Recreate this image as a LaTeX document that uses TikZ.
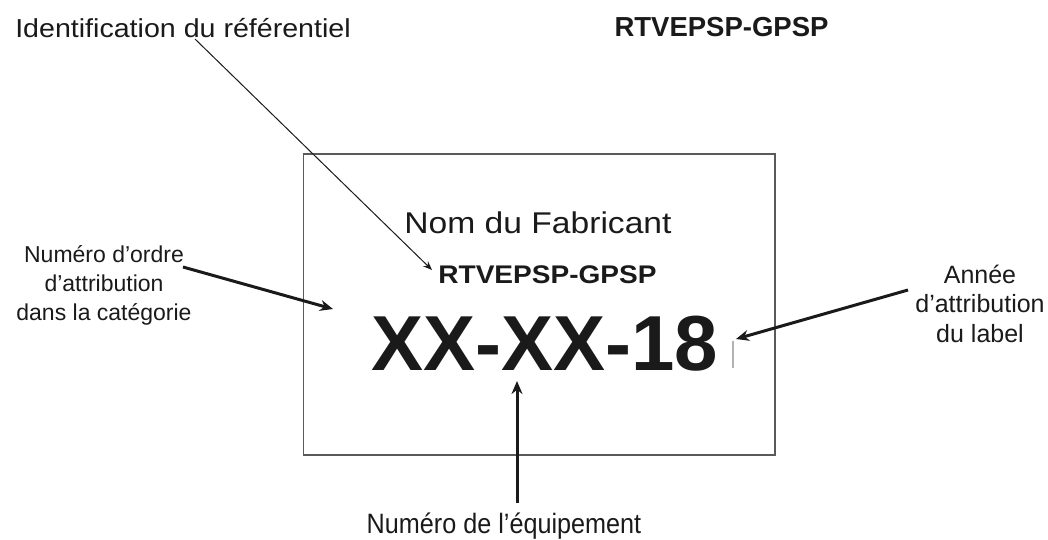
\documentclass[tikz,border=0pt]{standalone}
\usepackage{fontspec}
\setmainfont{Liberation Sans}
\newfontfamily\widefont[FakeStretch=1.1]{Liberation Sans}
\newfontfamily\widerfont[FakeStretch=1.12]{Liberation Sans}
\newfontfamily\narrowfont[FakeStretch=0.9]{Liberation Sans}
\usetikzlibrary{arrows.meta}
\definecolor{ink}{HTML}{1A1A1A}
\definecolor{boxgray}{HTML}{5A5A5A}
\tikzset{
  lbl/.style={inner sep=0pt, text=ink, anchor=base},
  thickarrow/.style={line width=3pt, ink, -{Stealth[length=13pt,width=11pt]}, shorten >=0pt},
  thinarrow/.style={line width=1pt, ink, -{Stealth[length=9pt,width=7pt]}},
  plate/.style={draw=boxgray, line width=1.6pt}
}
\begin{document}
\begin{tikzpicture}[x=1pt,y=-1pt]
\useasboundingbox (0,0) rectangle (1048,539);
% plate
\draw[plate] (303.5,154) rectangle (775,455);
% texts
\node[lbl, font=\widefont\fontsize{26}{30}\selectfont] (ident) at (183,37) {Identification du référentiel};
\node[lbl, font=\bfseries\fontsize{27.5}{32}\selectfont] (toptitle) at (721.5,36.5) {RTVEPSP-GPSP};
\node[lbl, font=\widerfont\fontsize{30}{34}\selectfont] (fab) at (538,233) {Nom du Fabricant};
\node[lbl, font=\widefont\bfseries\fontsize{25.5}{30}\selectfont] (ref) at (547.5,283) {RTVEPSP-GPSP};
\node[lbl, font=\bfseries\fontsize{78}{80}\selectfont] (num) at (544.5,370) {XX-XX-18};
\node[lbl, align=center, font=\fontsize{23}{29}\selectfont] (ordre) at (104,320) {Numéro d’ordre\\d’attribution\\dans la catégorie};
\node[lbl, align=center, font=\fontsize{25}{29.5}\selectfont] (annee) at (980,342) {Année\\d’attribution\\du label};
\node[lbl, font=\narrowfont\fontsize{28}{32}\selectfont] (equip) at (504,533) {Numéro de l’équipement};
% small mark
\draw[gray!60, line width=1.5pt] (733,341) -- (733,368);
% arrow endpoints
\coordinate (identstart) at (195,39);
\coordinate (identtip) at (432,270);
\coordinate (ordrestart) at (183,267);
\coordinate (ordretip) at (333,309);
\coordinate (anneestart) at (908,290);
\coordinate (anneetip) at (736,339);
\coordinate (equipstart) at (517,503);
\coordinate (equiptip) at (517,381);
% arrows
\draw[thinarrow] (identstart) -- (identtip);
\draw[thickarrow] (ordrestart) -- (ordretip);
\draw[thickarrow] (anneestart) -- (anneetip);
\draw[thickarrow] (equipstart) -- (equiptip);
\end{tikzpicture}
\end{document}
